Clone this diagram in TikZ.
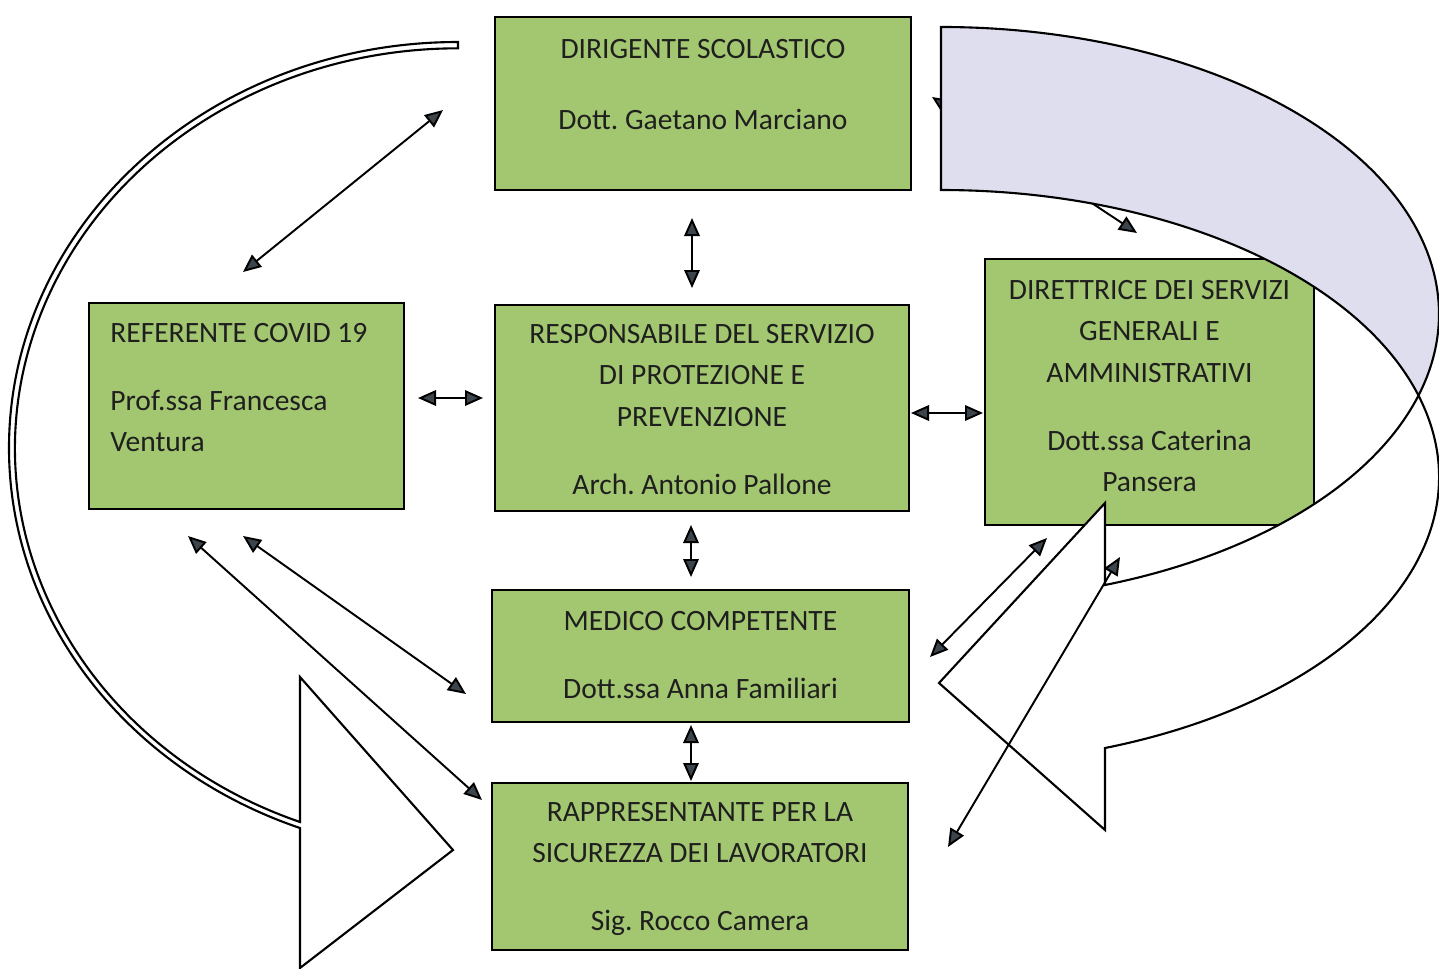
\documentclass[tikz,border=0pt]{standalone}
\usepackage{fontspec}
\setmainfont{Carlito}
\usetikzlibrary{arrows.meta}

\definecolor{boxgreen}{RGB}{163,199,112}
\definecolor{backlav}{RGB}{222,222,238}
\definecolor{tipgray}{RGB}{60,68,76}

\frenchspacing

\begin{document}
\begin{tikzpicture}[x=0.2mm, y=0.2mm,
  box/.style={draw=black, line width=1.25pt, fill=boxgreen, anchor=north west,
    inner sep=0pt, outer sep=0pt},
  lbl/.style={inner sep=0pt, align=center, text=black!88,
    font=\fontsize{16.8pt}{23.6pt}\selectfont},
  band/.style={draw=black, line width=1.2pt, line join=miter},
  >={Triangle[length=3.6mm,width=3.1mm,fill=tipgray]}]

\clip (0,0) rectangle (1439,-968);

% boxes
\node[box, minimum width=83.2mm, minimum height=34.6mm] (ds) at (495,-17) {};
\node[box, minimum width=63mm, minimum height=41.2mm] (ref) at (89,-303) {};
\node[box, minimum width=82.8mm, minimum height=41.2mm] (rspp) at (495,-305) {};
\node[box, minimum width=65.8mm, minimum height=53.2mm] (dsga) at (985,-259) {};
\node[box, minimum width=83.4mm, minimum height=26.4mm] (mc) at (492,-590) {};
\node[box, minimum width=83.2mm, minimum height=33.4mm] (rls) at (492,-783) {};

% texts
\node[lbl, anchor=north] (ds-t) at ([yshift=-4.4mm]ds.north)
  {DIRIGENTE SCOLASTICO\\[17pt]Dott. Gaetano Marciano};
\node[lbl, anchor=north west, align=left] (ref-t) at ([shift={(4.2mm,-4mm)}]ref.north west)
  {REFERENTE COVID 19\\[15pt]Prof.ssa Francesca\\Ventura};
\node[lbl, anchor=north] (rspp-t) at ([yshift=-3.8mm]rspp.north)
  {RESPONSABILE DEL SERVIZIO\\DI PROTEZIONE E\\PREVENZIONE\\[15pt]Arch. Antonio Pallone};
\node[lbl, anchor=north] (dsga-t) at ([yshift=-4.2mm]dsga.north)
  {DIRETTRICE DEI SERVIZI\\GENERALI E\\AMMINISTRATIVI\\[15pt]Dott.ssa Caterina\\Pansera};
\node[lbl, anchor=north] (mc-t) at ([yshift=-4.2mm]mc.north)
  {MEDICO COMPETENTE\\[15pt]Dott.ssa Anna Familiari};
\node[lbl, anchor=north] (rls-t) at ([yshift=-3.8mm]rls.north)
  {RAPPRESENTANTE PER LA\\SICUREZZA DEI LAVORATORI\\[15pt]Sig. Rocco Camera};

% arrow ends
\coordinate (ds-ref-1) at (443,-110);   \coordinate (ds-ref-2) at (243,-272);
\coordinate (ds-rspp-1) at (692,-218);  \coordinate (ds-rspp-2) at (692,-288);
\coordinate (ds-dsga-1) at (932,-97);   \coordinate (ds-dsga-2) at (1137,-233);
\coordinate (ref-rspp-1) at (418,-398); \coordinate (ref-rspp-2) at (483,-398);
\coordinate (rspp-dsga-1) at (911,-413);\coordinate (rspp-dsga-2) at (983,-413);
\coordinate (rspp-mc-1) at (691,-525);  \coordinate (rspp-mc-2) at (691,-577);
\coordinate (mc-rls-1) at (691,-725);   \coordinate (mc-rls-2) at (691,-781);
\coordinate (ref-mc-1) at (243,-536);   \coordinate (ref-mc-2) at (466,-694);
\coordinate (ref-rls-1) at (188,-536);  \coordinate (ref-rls-2) at (482,-800);
\coordinate (dsga-mc-1) at (1047,-538); \coordinate (dsga-mc-2) at (930,-657);
\coordinate (dsga-rls-1) at (1120,-557);\coordinate (dsga-rls-2) at (948,-847);

% this one runs under the big arrow
\draw[line width=1.1pt, <->] (ds-dsga-1) -- (ds-dsga-2);

% big curved arrow, back side
\path[band, fill=backlav] (941,-190)
  arc[start angle=90, end angle=16.5, x radius=99.6mm, y radius=57.4mm]
  arc[start angle=-16.5, end angle=90, x radius=99.6mm, y radius=57.4mm] -- cycle;
% big curved arrow, front side and head
\path[band, fill=white] (1105,-585)
  arc[start angle=-70.77, end angle=-16.5, x radius=99.6mm, y radius=57.4mm]
  arc[start angle=16.5, end angle=-70.77, x radius=99.6mm, y radius=57.4mm]
  -- (1105,-830) -- (939,-683) -- (1105,-503) -- cycle;

% thin curved arrow on the left
\path[band, fill=white] (458,-42)
  arc[start angle=90, end angle=249.4, x radius=89.8mm, y radius=81.2mm]
  -- (300,-968) -- (453,-850) -- (300,-677) -- (300,-822)
  arc[start angle=249.1, end angle=90, x radius=88.6mm, y radius=80mm] -- cycle;

% links
\draw[line width=1.1pt, <->] (ds-ref-1) -- (ds-ref-2);
\draw[line width=1.1pt, <->] (ds-rspp-1) -- (ds-rspp-2);
\draw[line width=1.1pt, <->] (ref-rspp-1) -- (ref-rspp-2);
\draw[line width=1.1pt, <->] (rspp-dsga-1) -- (rspp-dsga-2);
\draw[line width=1.1pt, <->] (rspp-mc-1) -- (rspp-mc-2);
\draw[line width=1.1pt, <->] (mc-rls-1) -- (mc-rls-2);
\draw[line width=1.1pt, <->] (ref-mc-1) -- (ref-mc-2);
\draw[line width=1.1pt, <->] (ref-rls-1) -- (ref-rls-2);
\draw[line width=1.1pt, <->] (dsga-mc-1) -- (dsga-mc-2);
\draw[line width=1.1pt, <->] (dsga-rls-1) -- (dsga-rls-2);

\end{tikzpicture}
\end{document}
